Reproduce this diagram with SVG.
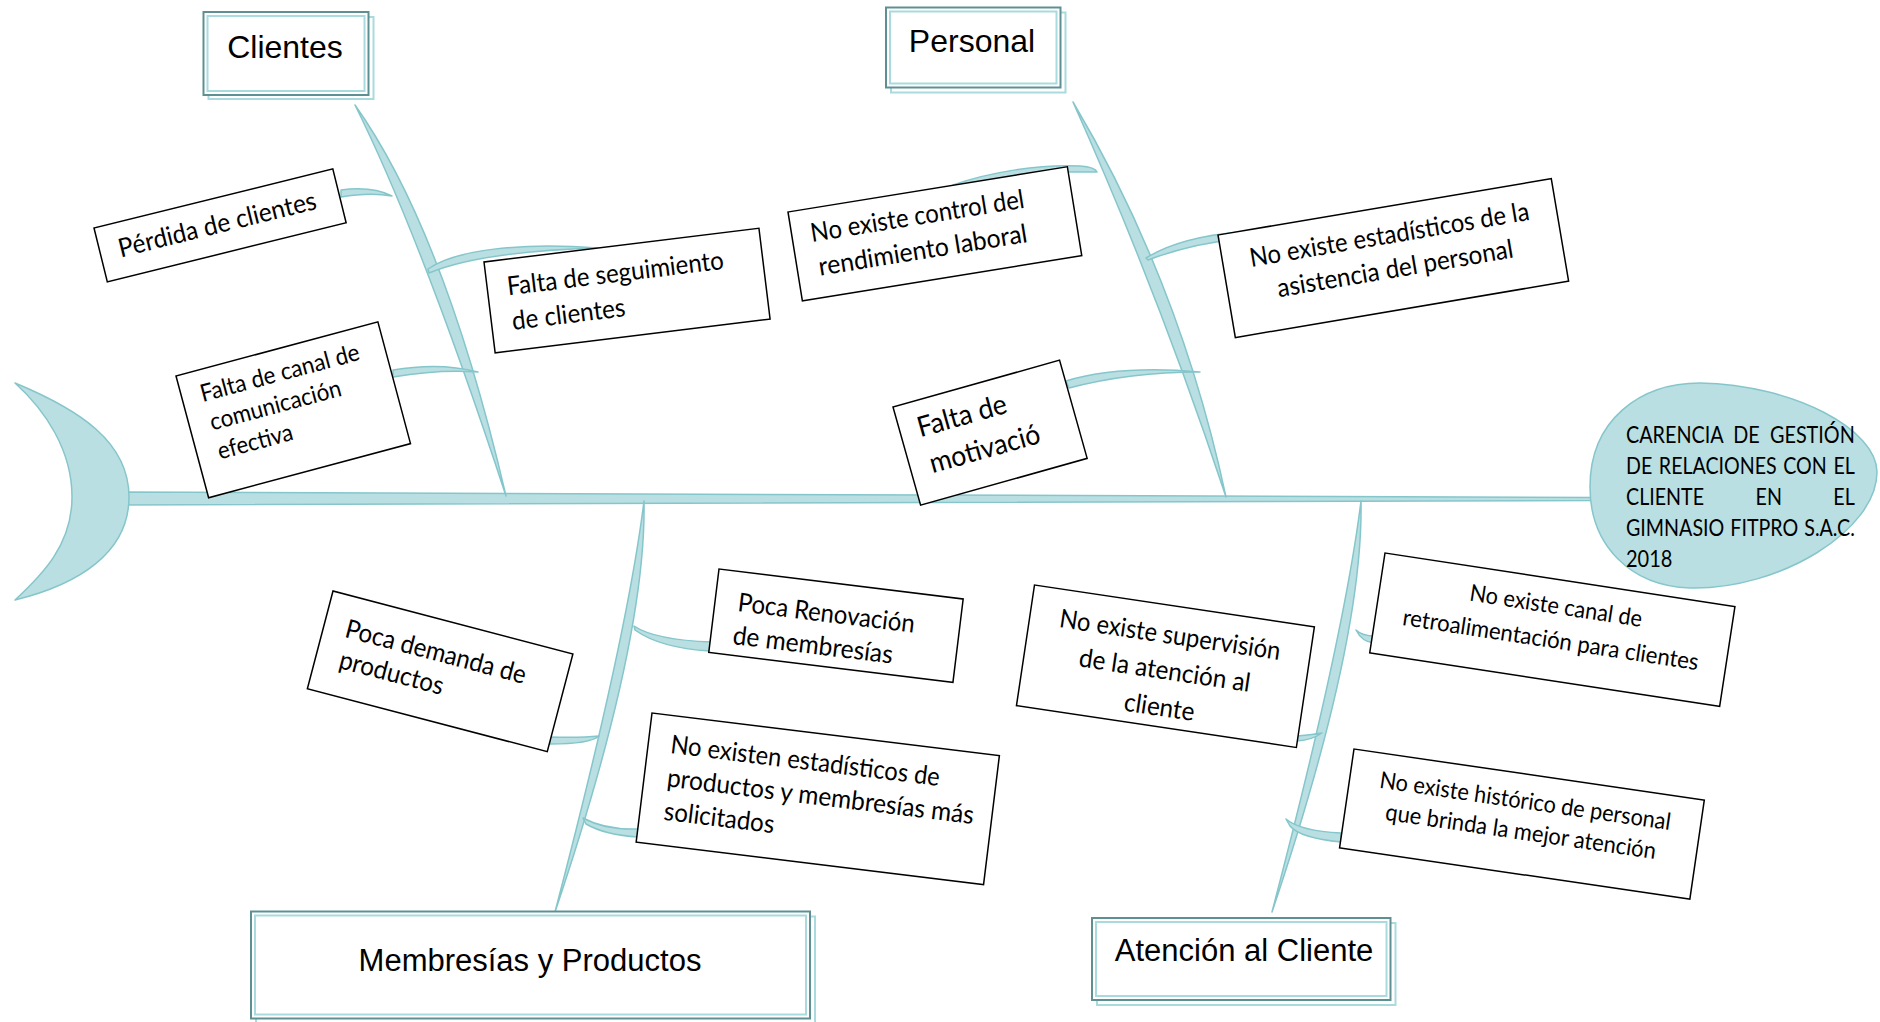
<svg xmlns="http://www.w3.org/2000/svg" width="1880" height="1022" viewBox="0 0 1880 1022">
<defs>
<style>
.bone{fill:#b9dfe2;stroke:#85c6cb;stroke-width:1.5;stroke-linejoin:round}
.cause rect{fill:#fff;stroke:#000;stroke-width:1.5}
.ct{font-family:Lato,"Open Sans",sans-serif;fill:#000}
.mid{text-anchor:middle}
.cat .shadow{fill:none;stroke:#a9dade;stroke-width:2}
.cat .frame{fill:#fff;stroke:#5e8f91;stroke-width:2}
.cat .inner{fill:none;stroke:#a9dade;stroke-width:2}
.cat text{font-family:"Liberation Sans",Arial,sans-serif;fill:#000;text-anchor:middle}
.head text{font-family:Lato,"Open Sans",sans-serif;font-size:23px;fill:#000}
</style>
</defs>
<rect width="1880" height="1022" fill="#fff"/>

<g id="connectors">
<path id="spine" class="bone" d="M120,492 L1595,497.5 L1595,500.5 L120,505 Z"/>
<path id="bone-clientes" class="bone" d="M355,105 Q444.2,230.7 506,496 Q421.8,239.3 355,105 Z"/>
<path id="bone-personal" class="bone" d="M1073,102 Q1180.2,282.7 1226,497 Q1157.8,291.3 1073,102 Z"/>
<path id="bone-membresias" class="bone" d="M644,501 Q646.7,640.1 555,912 Q627.3,635.9 644,501 Z"/>
<path id="bone-atencion" class="bone" d="M1361,501 Q1363.7,640.1 1272,912 Q1344.3,635.9 1361,501 Z"/>
<path class="bone" d="M341,190 Q372,186 392,196 Q370,192 341,197 Z"/>
<path class="bone" d="M428,269 C455,250 520,242 598,248 C530,250 470,256 429,273 Z"/>
<path class="bone" d="M393,370 Q440,362 478,372 Q440,369 393,377 Z"/>
<path class="bone" d="M953,185 C990,172 1040,164 1080,166 Q1095,167 1097,172 L1070,172 C1040,172 1000,178 960,188 Z"/>
<path class="bone" d="M1146,258 Q1180,237 1240,232 L1238,239 Q1190,244 1148,260 Z"/>
<path class="bone" d="M1066,381 Q1120,365 1200,372 Q1130,372 1069,388 Z"/>
<path class="bone" d="M634,626 Q655,640 712,642 L710,651 Q660,648 635,630 Z"/>
<path class="bone" d="M550,737 Q580,738 599,736 Q590,744 550,744 Z"/>
<path class="bone" d="M583,818 Q605,830 638,829 L638,837 Q605,835 586,824 Z"/>
<path class="bone" d="M1356,630 Q1362,636 1375,636 L1374,643 Q1362,642 1356,630 Z"/>
<path class="bone" d="M1297,736 Q1310,735 1322,733 Q1312,740 1297,741 Z"/>
<path class="bone" d="M1286,819 Q1300,831 1341,833 L1341,842 Q1300,838 1290,826 Z"/>
</g>

<g id="tail">
<path class="bone" d="M15,383 C80,410 129,442 129,497 C129,552 80,584 15,600 C42,575 72,545 72,497 C72,450 45,410 15,383 Z"/>
</g>

<g id="effect" class="head">
<path class="bone" d="M1590,487 C1590,420 1640,383 1700,383 C1795,385 1877,430 1877,472 C1877,530 1780,590 1690,588 C1630,586 1590,545 1590,487 Z"/>
<g transform="translate(1626,0) scale(0.87,1)">
<text x="0" y="443" word-spacing="6" textLength="263" lengthAdjust="spacingAndGlyphs">CARENCIA DE GESTIÓN</text>
<text x="0" y="474" word-spacing="1.9" textLength="263" lengthAdjust="spacingAndGlyphs">DE RELACIONES CON EL</text>
<text x="0" y="505" word-spacing="54.3" textLength="263" lengthAdjust="spacingAndGlyphs">CLIENTE EN EL</text>
<text x="0" y="536" word-spacing="1.2" textLength="263" lengthAdjust="spacingAndGlyphs">GIMNASIO FITPRO S.A.C.</text>
<text x="0" y="567">2018</text>
</g>
</g>

<g id="cat-clientes" class="cat">
<rect class="shadow" x="208.5" y="17" width="165" height="82"/>
<rect class="frame" x="203.5" y="12" width="165" height="83"/>
<rect class="inner" x="207.5" y="16" width="157" height="75"/>
<text x="285" y="58" font-size="32">Clientes</text>
</g>
<g id="cat-personal" class="cat">
<rect class="shadow" x="891" y="12.5" width="174.5" height="80"/>
<rect class="frame" x="886" y="7.5" width="174.5" height="80"/>
<rect class="inner" x="890" y="11.5" width="166.5" height="72"/>
<text x="972" y="52" font-size="32">Personal</text>
</g>
<g id="cat-membresias" class="cat">
<rect class="shadow" x="256" y="916.5" width="559" height="107"/>
<rect class="frame" x="251" y="911.5" width="559" height="107"/>
<rect class="inner" x="255" y="915.5" width="551" height="99"/>
<text x="530" y="971" font-size="31">Membresías y Productos</text>
</g>
<g id="cat-atencion" class="cat">
<rect class="shadow" x="1097" y="923" width="298.5" height="82"/>
<rect class="frame" x="1092" y="918" width="298.5" height="82"/>
<rect class="inner" x="1096" y="922" width="290.5" height="74"/>
<text x="1244" y="961" font-size="31">Atención al Cliente</text>
</g>

<g id="cause-perdida" class="cause" transform="translate(94,228) rotate(-13.9)">
<rect width="246" height="55.5"/>
<text class="ct" x="19" y="35" font-size="26" textLength="203" lengthAdjust="spacingAndGlyphs">Pérdida de clientes</text>
</g>
<g id="cause-canal" class="cause" transform="translate(176,376) rotate(-15)">
<rect width="209" height="126"/>
<text class="ct" x="19" y="32" font-size="24" textLength="164" lengthAdjust="spacingAndGlyphs">Falta de canal de</text>
<text class="ct" x="21" y="62" font-size="24" textLength="135" lengthAdjust="spacingAndGlyphs">comunicación</text>
<text class="ct" x="21" y="92" font-size="24" textLength="77" lengthAdjust="spacingAndGlyphs">efectiva</text>
</g>
<g id="cause-seguimiento" class="cause" transform="translate(484,262) rotate(-7)">
<rect width="277" height="91.5"/>
<text class="ct" x="20" y="36" font-size="26" textLength="218" lengthAdjust="spacingAndGlyphs">Falta de seguimiento</text>
<text class="ct" x="20.5" y="71" font-size="26" textLength="114" lengthAdjust="spacingAndGlyphs">de clientes</text>
</g>
<g id="cause-control" class="cause" transform="translate(788,212) rotate(-9.2)">
<rect width="283" height="90"/>
<text class="ct" x="19" y="33.5" font-size="26" textLength="216" lengthAdjust="spacingAndGlyphs">No existe control del</text>
<text class="ct" x="21.5" y="68" font-size="26" textLength="211" lengthAdjust="spacingAndGlyphs">rendimiento laboral</text>
</g>
<g id="cause-asistencia" class="cause" transform="translate(1218,235) rotate(-9.6)">
<rect width="338" height="104"/>
<text class="ct mid" x="169" y="37" font-size="26" textLength="283" lengthAdjust="spacingAndGlyphs">No existe estadísticos de la</text>
<text class="ct mid" x="169" y="71.5" font-size="26" textLength="239" lengthAdjust="spacingAndGlyphs">asistencia del personal</text>
</g>
<g id="cause-motivacion" class="cause" transform="translate(893,407) rotate(-15.7)">
<rect width="173" height="102"/>
<text class="ct" x="18" y="36.5" font-size="28" textLength="92" lengthAdjust="spacingAndGlyphs">Falta de</text>
<text class="ct" x="20" y="74.5" font-size="28" textLength="114" lengthAdjust="spacingAndGlyphs">motivació</text>
</g>
<g id="cause-demanda" class="cause" transform="translate(333,591) rotate(14.7)">
<rect width="248" height="101"/>
<text class="ct" x="22" y="41.5" font-size="26" textLength="186" lengthAdjust="spacingAndGlyphs">Poca demanda de</text>
<text class="ct" x="24" y="73" font-size="26" textLength="107" lengthAdjust="spacingAndGlyphs">productos</text>
</g>
<g id="cause-renovacion" class="cause" transform="translate(719,569) rotate(7)">
<rect width="246" height="84"/>
<text class="ct" x="23" y="39.5" font-size="26" textLength="178" lengthAdjust="spacingAndGlyphs">Poca Renovación</text>
<text class="ct" x="22" y="72.8" font-size="26" textLength="161" lengthAdjust="spacingAndGlyphs">de membresías</text>
</g>
<g id="cause-estadisticos" class="cause" transform="translate(652,713) rotate(7)">
<rect width="350" height="130"/>
<text class="ct" x="22.5" y="37.5" font-size="26" textLength="271" lengthAdjust="spacingAndGlyphs">No existen estadísticos de</text>
<text class="ct" x="23" y="71" font-size="26" textLength="309" lengthAdjust="spacingAndGlyphs">productos y membresías más</text>
<text class="ct" x="24" y="104.5" font-size="26" textLength="111" lengthAdjust="spacingAndGlyphs">solicitados</text>
</g>
<g id="cause-supervision" class="cause" transform="translate(1034.5,585) rotate(8.5)">
<rect width="283" height="122"/>
<text class="ct mid" x="141.5" y="38" font-size="26" textLength="223" lengthAdjust="spacingAndGlyphs">No existe supervisión</text>
<text class="ct mid" x="141.5" y="74" font-size="26" textLength="173" lengthAdjust="spacingAndGlyphs">de la atención al</text>
<text class="ct mid" x="141.5" y="111" font-size="26" textLength="71" lengthAdjust="spacingAndGlyphs">cliente</text>
</g>
<g id="cause-retroalimentacion" class="cause" transform="translate(1385,553) rotate(8.7)">
<rect width="354" height="101"/>
<text class="ct mid" x="177" y="34.4" font-size="23.5" textLength="174" lengthAdjust="spacingAndGlyphs">No existe canal de</text>
<text class="ct mid" x="177" y="68.6" font-size="23.5" textLength="299" lengthAdjust="spacingAndGlyphs">retroalimentación para clientes</text>
</g>
<g id="cause-historico" class="cause" transform="translate(1354,749) rotate(8.3)">
<rect width="354" height="100"/>
<text class="ct mid" x="177" y="34.7" font-size="23.5" textLength="294" lengthAdjust="spacingAndGlyphs">No existe histórico de personal</text>
<text class="ct mid" x="177" y="65.5" font-size="23.5" textLength="273" lengthAdjust="spacingAndGlyphs">que brinda la mejor atención</text>
</g>
</svg>
